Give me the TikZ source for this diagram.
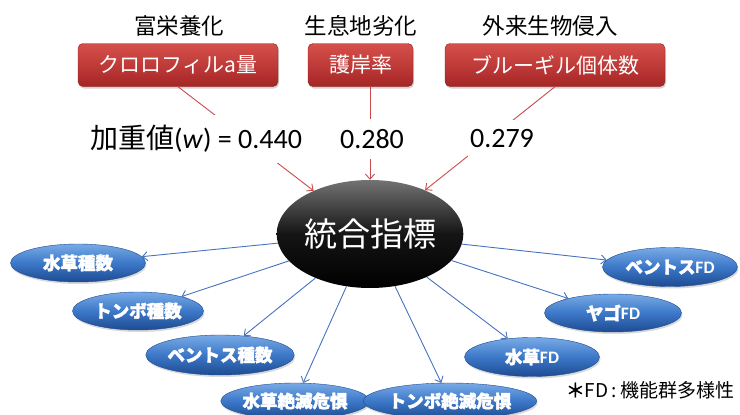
\documentclass[tikz,border=0pt]{standalone}
\usepackage{fontspec}
\setmainfont{Carlito}
\newfontfamily\jp{Noto Sans CJK JP}
\newfontfamily\jpb{Noto Sans CJK JP}[FakeBold=2]
\usetikzlibrary{arrows.meta,shapes.geometric,shadows,calc}
\definecolor{redline}{RGB}{200,75,75}
\definecolor{blueline}{RGB}{70,115,190}
\definecolor{boxtop}{RGB}{215,80,75}
\definecolor{boxbot}{RGB}{165,38,38}
\definecolor{bluetop}{RGB}{120,170,230}
\definecolor{bluemid}{RGB}{60,120,200}
\definecolor{bluebot}{RGB}{30,75,145}
\tikzset{
  titletext/.style={font=\jp\fontsize{22.5}{26}\selectfont},
  redbox/.style={rounded corners=5pt, top color=boxtop, bottom color=boxbot,
    draw=boxbot!85!black, line width=0.4pt, text=white,
    font=\jp\fontsize{21}{24}\selectfont, minimum height=43pt, inner sep=0pt,
    drop shadow={shadow xshift=1pt, shadow yshift=-2pt, opacity=0.35}},
  weight/.style={fill=white, inner xsep=2pt, inner ysep=10pt,
    font=\fontsize{28}{32}\selectfont},
  blueell/.style={ellipse, inner sep=0pt, minimum width=135pt, minimum height=38pt,
    top color=bluetop, bottom color=bluebot, middle color=bluemid,
    draw=bluebot, line width=0.4pt, text=white,
    font=\bfseries\fontsize{17.5}{20}\selectfont,
    drop shadow={shadow xshift=1pt, shadow yshift=-2pt, opacity=0.3}},
  center/.style={ellipse, inner sep=0pt, minimum width=170pt, minimum height=108pt,
    top color=black!55, bottom color=black, middle color=black!92,
    text=white, font=\jp\fontsize{33}{38}\selectfont},
  redarrow/.style={draw=redline, line width=0.9pt, -{Straight Barb[length=5pt,width=9pt]}},
  bluearrow/.style={draw=blueline, line width=0.9pt, -{Straight Barb[length=5pt,width=9pt]}},
}
\begin{document}
\begin{tikzpicture}[x=1pt,y=-1pt]
\useasboundingbox (0,0) rectangle (740,415);
% titles
\node[titletext] (t1) at (179,26) {富栄養化};
\node[titletext] (t2) at (361,26) {生息地劣化};
\node[titletext] (t3) at (550,26) {外来生物侵入};
% red boxes
\node[redbox, minimum width=200pt] (k1) at (178,65) {クロロフィルa量};
\node[redbox, minimum width=105pt] (k2) at (360.5,65) {護岸率};
\node[redbox, minimum width=220pt] (k3) at (555,65) {ブルーギル個体数};
% central node
\node[center] (c) at (370,234) {統合指標};
% red arrows
\draw[redarrow] (k1.south) -- (c);
\draw[redarrow] (k2.south -| c) -- (c);
\draw[redarrow] (k3.south) -- (c);
% weights
\node[weight] (w1) at (196,139) {{\jp 加重値}(\textit{w}) = 0.440};
\node[weight] (w2) at (372,139) {0.280};
\node[weight] (w3) at (502,139) {0.279};
% blue nodes
\node[blueell] (b1) at (78,263) {\jpb 水草種数};
\node[blueell, minimum width=131pt] (b2) at (138,311) {\jpb トンボ種数};
\node[blueell, minimum height=40pt] (b3) at (220,355) {\jpb ベントス種数};
\node[blueell, minimum height=36pt] (b4) at (295,401) {\jpb 水草絶滅危惧};
\node[blueell, minimum height=36pt] (b5) at (450,401) {\jpb トンボ絶滅危惧};
\node[blueell, minimum height=39pt] (b6) at (532,357) {{\jpb 水草}FD};
\node[blueell, minimum width=137pt] (b7) at (613,313) {{\jpb ヤゴ}FD};
\node[blueell, minimum height=39pt] (b8) at (670,267) {{\jpb ベントス}FD};
\foreach \n in {b1,b2,b3,b4,b5,b6,b7,b8} \draw[bluearrow] (c) -- (\n);
% footnote
\node[font=\jp\fontsize{19}{22}\selectfont] (fn) at (650,390) {{\jpb ＊}FD\,:\,機能群多様性};
\end{tikzpicture}
\end{document}
